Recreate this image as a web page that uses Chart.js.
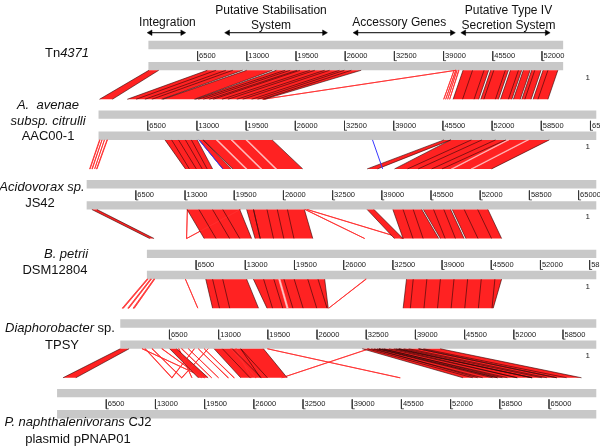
<!DOCTYPE html>
<html>
<head>
<meta charset="utf-8">
<title>Tn4371 family comparison</title>
<script src="https://cdn.jsdelivr.net/npm/chart.js@4.4.1/dist/chart.umd.min.js"></script>
<style>
  html, body { margin: 0; padding: 0; background: #fff; }
  canvas { display: block; }
</style>
</head>
<body>
<canvas id="act" width="600" height="446"></canvas>
<script>
/* ---------- data ---------- */

const genomeNames = [
  [[['Tn', 0], ['4371', 1]]],
  [[['A.  avenae', 1]], [['subsp. citrulli', 1]], [['AAC00-1', 0]]],
  [[['Acidovorax sp.', 1]], [['JS42', 0]]],
  [[['B. petrii', 1]], [['DSM12804', 0]]],
  [[['Diaphorobacter', 1], [' sp.', 0]], [['TPSY', 0]]],
  [[['P. naphthalenivorans', 1], [' CJ2', 0]], [['plasmid pPNAP01', 0]]]
];
const genomeLength = [54800, 75000, 75000, 70000, 75000, 75000];
const rulerTicks = [6500, 13000, 19500, 26000, 32500, 39000, 45500, 52000, 58500, 65000];

// regions of Tn4371
const regionLabels = [['Integration'], ['Putative Stabilisation', 'System'], ['Accessory Genes'], ['Putative Type IV', 'Secretion System']];
const regionStart = [260, 10500, 27470, 41700];
const regionEnd = [4500, 23230, 40130, 52660];

// hits: [upper start, upper end, lower start, lower end, type]
// f = forward hit, w = weak hit, p = low identity, r = inverted, e = hit edge
const tnVsAac = [
  [70, 1370, 130, 1830, 'f'],
  [7770, 12460, 3790, 8350, 'f'],
  [12990, 16380, 8480, 12660, 'f'],
  [16900, 28120, 12790, 21920, 'f'],
  [40650, 40720, 21660, 21730, 'w'],
  [40390, 40460, 45540, 45610, 'w'],
  [40590, 40660, 45810, 45870, 'w'],
  [40780, 40850, 46070, 46130, 'w'],
  [40980, 41050, 46330, 46390, 'w'],
  [41570, 44960, 46850, 50240, 'f'],
  [45220, 47570, 50500, 52850, 'f'],
  [47830, 49330, 53110, 54610, 'f'],
  [49530, 50440, 54810, 55720, 'f'],
  [50630, 51880, 55920, 57160, 'f'],
  [52140, 54100, 57420, 59380, 'f'],
  [8940, 8940, 4960, 4960, 'e'],
  [10240, 10240, 6130, 6130, 'e'],
  [11160, 11160, 7050, 7050, 'e'],
  [18070, 18070, 13180, 13180, 'e'],
  [18730, 18730, 13830, 13830, 'e'],
  [19640, 19640, 14620, 14620, 'e'],
  [20030, 20030, 15140, 15140, 'e'],
  [21340, 21340, 16310, 16310, 'e'],
  [21990, 21990, 17100, 17100, 'e'],
  [23290, 23290, 18270, 18270, 'e'],
  [23950, 23950, 19050, 19050, 'e'],
  [25250, 25250, 20230, 20230, 'e'],
  [25900, 25900, 21010, 21010, 'e'],
  [26820, 26820, 21660, 21660, 'e'],
  [42830, 42830, 48100, 48100, 'e'],
  [44350, 44350, 49620, 49620, 'e'],
  [45640, 45640, 50910, 50910, 'e'],
  [47160, 47160, 52440, 52440, 'e'],
  [48890, 48890, 54160, 54160, 'e'],
  [51050, 51050, 56330, 56330, 'e'],
  [52790, 52790, 58060, 58060, 'e']
];

const aacVsJs42 = [
  [130, 200, 390, 460, 'w'],
  [460, 530, 690, 760, 'w'],
  [780, 850, 990, 1060, 'w'],
  [1110, 1180, 1300, 1370, 'w'],
  [8780, 13050, 13050, 16640, 'f'],
  [13270, 13820, 17990, 19120, 'f'],
  [13820, 22940, 19340, 28550, 'f'],
  [15530, 15730, 21010, 21210, 'p'],
  [17490, 17690, 22970, 23170, 'p'],
  [19450, 19650, 24930, 25130, 'p'],
  [45640, 46540, 37060, 38430, 'f'],
  [46540, 59560, 40680, 53500, 'f'],
  [54030, 54230, 48160, 48360, 'p'],
  [56640, 56840, 50770, 50970, 'p'],
  [13270, 13270, 17990, 17990, 'r'],
  [36200, 36200, 39110, 39110, 'r'],
  [9660, 9660, 13570, 13570, 'e'],
  [10570, 10570, 14490, 14490, 'e'],
  [11480, 11480, 15270, 15270, 'e'],
  [12270, 12270, 15920, 15920, 'e'],
  [49270, 49270, 42400, 42400, 'e'],
  [50670, 50670, 43800, 43800, 'e'],
  [52460, 52460, 45590, 45590, 'e'],
  [53820, 53820, 46950, 46950, 'e']
];

const js42VsBpet = [
  [690, 1360, 370, 950, 'f'],
  [13270, 20230, 7570, 13830, 'f'],
  [13310, 13380, 5170, 5240, 'w'],
  [20300, 20370, 5170, 5240, 'w'],
  [21140, 22050, 14300, 14970, 'f'],
  [22050, 28770, 14970, 21920, 'f'],
  [28840, 28910, 28710, 28780, 'w'],
  [29100, 29170, 33800, 33870, 'w'],
  [37060, 37970, 32710, 33840, 'f'],
  [40460, 44280, 33850, 38560, 'f'],
  [44490, 48090, 38780, 41920, 'f'],
  [48310, 53020, 42150, 46870, 'f'],
  [14840, 14840, 9140, 9140, 'e'],
  [16640, 16640, 10930, 10930, 'e'],
  [17990, 17990, 12270, 12270, 'e'],
  [23830, 23830, 16730, 16730, 'e'],
  [25190, 25190, 18090, 18090, 'e'],
  [26530, 26530, 19430, 19430, 'e'],
  [41810, 41810, 35160, 35160, 'e'],
  [43150, 43150, 36500, 36500, 'e'],
  [45840, 45840, 39410, 39410, 'e'],
  [47200, 47200, 40770, 40770, 'e'],
  [49890, 49890, 43750, 43750, 'e'],
  [51670, 51670, 45540, 45540, 'e']
];

const bpetVsTpsy = [
  [0, 150, 260, 420, 'w'],
  [450, 600, 1000, 1150, 'w'],
  [900, 1040, 1700, 1870, 'w'],
  [5090, 5160, 10180, 10250, 'w'],
  [7780, 13180, 12200, 18270, 'f'],
  [14070, 23490, 19390, 27480, 'f'],
  [17400, 17600, 22000, 22200, 'p'],
  [28910, 28980, 27480, 27550, 'w'],
  [34300, 46870, 37380, 49280, 'f'],
  [8680, 8680, 13115, 13115, 'e'],
  [10020, 10020, 14460, 14460, 'e'],
  [15420, 15420, 20120, 20120, 'e'],
  [16770, 16770, 21470, 21470, 'e'],
  [18110, 18110, 22810, 22810, 'e'],
  [19460, 19460, 24160, 24160, 'e'],
  [21260, 21260, 25960, 25960, 'e'],
  [22610, 22610, 27320, 27320, 'e'],
  [35190, 35190, 38330, 38330, 'e'],
  [36990, 36990, 40130, 40130, 'e'],
  [38780, 38780, 41920, 41920, 'e'],
  [40580, 40580, 43720, 43720, 'e'],
  [42380, 42380, 45520, 45520, 'e'],
  [44180, 44180, 47320, 47320, 'e'],
  [45980, 45980, 49120, 49120, 'e']
];

const tpsyVsCj2 = [
  [0, 1170, 780, 2480, 'f'],
  [6530, 7440, 18660, 19970, 'f'],
  [12400, 15920, 24270, 27800, 'f'],
  [15920, 18920, 26880, 30410, 'f'],
  [2870, 2940, 19440, 19510, 'w'],
  [3260, 3330, 15140, 15210, 'w'],
  [4180, 4250, 16440, 16510, 'w'],
  [7700, 7770, 17750, 17820, 'w'],
  [9000, 9070, 21270, 21340, 'w'],
  [10310, 10380, 22580, 22650, 'w'],
  [11090, 11160, 23360, 23430, 'w'],
  [8090, 8160, 20360, 20430, 'w'],
  [9790, 9860, 15140, 15210, 'w'],
  [11610, 11680, 16440, 16510, 'w'],
  [5480, 5550, 19050, 19120, 'w'],
  [14620, 14690, 26230, 26300, 'w'],
  [15270, 15340, 25580, 25650, 'w'],
  [19440, 19510, 45280, 45350, 'w'],
  [32890, 32960, 29620, 29690, 'w'],
  [31970, 34190, 53640, 58200, 'f'],
  [34190, 36800, 58200, 62770, 'f'],
  [36800, 39410, 62770, 66030, 'f'],
  [39410, 42280, 66030, 69300, 'f'],
  [13500, 13500, 25500, 25500, 'e'],
  [14800, 14800, 27000, 27000, 'e'],
  [32630, 32630, 54940, 54940, 'e'],
  [33150, 33150, 56250, 56250, 'e'],
  [33540, 33540, 55590, 55590, 'e'],
  [33930, 33930, 57550, 57550, 'e'],
  [34580, 34580, 59510, 59510, 'e'],
  [34840, 34840, 58850, 58850, 'e'],
  [35500, 35500, 60810, 60810, 'e'],
  [36150, 36150, 60810, 60810, 'e'],
  [36410, 36410, 62770, 62770, 'e'],
  [37450, 37450, 64080, 64080, 'e'],
  [38110, 38110, 64730, 64730, 'e'],
  [40060, 40060, 67340, 67340, 'e']
];

const comparisons = [tnVsAac, aacVsJs42, js42VsBpet, bpetVsTpsy, tpsyVsCj2];

/* ---------- layout ---------- */

const BP_WIDTH = 78300;  // bp spanned by the 600px window
const trackShift = [19120, 12530, 10960, 18920, 15400, 7050];
const trackTop = [37.7, 108.5, 179.3, 250.1, 320.9, 391.7];
const BAR_H = 8.5, RULER_GAP = 21.5, BAND_H = 29.5, TICK_FOOT = 330;
const ARROW_Y = 29.5;
const regionDx = [1, -5, -5, 3];
const namePos = [
  [[67, 53]],
  [[48, 105], [48, 121], [48, 136]],
  [[42, 187], [40, 203]],
  [[66, 254], [55, 270]],
  [[60, 328], [62, 345]],
  [[78, 422], [78, 439]]
];

const RED = 'rgb(255,34,34)';
const WEAK = 'rgba(255,45,45,0.9)';
const PALE = 'rgba(255,205,205,0.95)';
const DARK = 'rgba(45,0,0,0.85)';
const EDGE = 'rgba(0,0,0,0.7)';
const BLUE = 'rgb(55,55,255)';
const GREY = '#c8c8c8';

/* ---------- datasets ---------- */

const GAP = {x: null, y: null};

function shapeSet(polys, fill, line, width, order) {
  const data = [];
  polys.forEach(p => {
    p.forEach(pt => data.push({x: pt[0], y: pt[1]}));
    data.push({x: p[0][0], y: p[0][1]});
    data.push(GAP);
  });
  return {
    data, showLine: true, spanGaps: false, fill: 'shape',
    backgroundColor: fill, borderColor: line || 'transparent', borderWidth: line ? width : 0,
    pointRadius: 0, pointHoverRadius: 0, order
  };
}

function lineSet(lines, color, width, order) {
  const data = [];
  lines.forEach(l => {
    l.forEach(pt => data.push({x: pt[0], y: pt[1]}));
    data.push(GAP);
  });
  return {
    data, showLine: true, spanGaps: false, fill: false,
    borderColor: color, borderWidth: width, pointRadius: 0, pointHoverRadius: 0, order
  };
}

const datasets = [];

// grey sequence bars and ruler ticks
const bars = [];
const ticks = [];
genomeLength.forEach((len, g) => {
  const x0 = trackShift[g], x1 = x0 + len, y0 = trackTop[g];
  [0, RULER_GAP].forEach(dy => {
    bars.push([[x0, y0 + dy], [x1, y0 + dy], [x1, y0 + dy + BAR_H], [x0, y0 + dy + BAR_H]]);
  });
  rulerTicks.filter(t => t < len).forEach(t => {
    ticks.push([[x0 + t, y0 + 10.6], [x0 + t, y0 + 20.2], [x0 + t + TICK_FOOT, y0 + 20.2]]);
  });
});
datasets.push(shapeSet(bars, GREY, null, 0, 6));
datasets.push(lineSet(ticks, '#333', 0.8, 0));

// hits between neighbouring genomes
comparisons.forEach((hits, i) => {
  const yA = trackTop[i] + RULER_GAP + BAR_H, yB = yA + BAND_H;
  const sA = trackShift[i], sB = trackShift[i + 1];
  const quad = h => [[sA + h[0], yA], [sA + h[1], yA], [sB + h[3], yB], [sB + h[2], yB]];
  const left = h => [[sA + h[0], yA], [sB + h[2], yB]];
  const right = h => [[sA + h[1], yA], [sB + h[3], yB]];
  const of = k => hits.filter(h => h[4] === k);

  datasets.push(shapeSet(of('f').map(quad), RED, null, 0, 5));
  datasets.push(shapeSet(of('w').map(quad), WEAK, WEAK, 0.9, 4));
  datasets.push(shapeSet(of('p').map(quad), PALE, PALE, 0.5, 3));
  datasets.push(lineSet(of('f').flatMap(h => [left(h), right(h)]), DARK, 0.7, 1));
  datasets.push(lineSet(of('e').map(left), EDGE, 0.7, 1));
  datasets.push(lineSet(of('r').map(left), BLUE, 1, 0));
});

// region arrows above Tn4371
const arrowData = [];
regionStart.forEach((s, i) => {
  arrowData.push({x: trackShift[0] + s, y: ARROW_Y});
  arrowData.push({x: trackShift[0] + regionEnd[i], y: ARROW_Y});
  arrowData.push(GAP);
});
datasets.push({
  data: arrowData, showLine: true, spanGaps: false, fill: false,
  borderColor: '#000', borderWidth: 1,
  pointStyle: 'triangle', pointRadius: 3.2, pointHoverRadius: 3.2,
  pointRotation: c => (c.dataIndex % 3 === 0 ? 270 : 90),
  pointBackgroundColor: '#000', pointBorderColor: '#000', pointBorderWidth: 0.5,
  order: 0
});

/* ---------- text ---------- */

const font = (italic, size) => (italic ? 'italic ' : '') + size + 'px "Liberation Sans", Arial, sans-serif';

const labelPlugin = {
  id: 'actLabels',
  afterDatasetsDraw(chart) {
    const {ctx, scales: {x, y}} = chart;
    ctx.save();
    ctx.textBaseline = 'middle';

    // region names
    ctx.fillStyle = '#111';
    ctx.font = font(0, 12);
    ctx.textAlign = 'center';
    regionLabels.forEach((lines, i) => {
      const cx = x.getPixelForValue(trackShift[0] + (regionStart[i] + regionEnd[i]) / 2) + regionDx[i];
      const ys = lines.length === 1 ? [19.5] : [7.5, 22];
      lines.forEach((t, k) => ctx.fillText(t, cx, y.getPixelForValue(ys[k])));
    });

    // ruler numbers and the "1" marks
    ctx.textAlign = 'left';
    ctx.fillStyle = '#222';
    genomeLength.forEach((len, g) => {
      ctx.font = font(0, 7.5);
      rulerTicks.filter(t => t < len).forEach(t => {
        ctx.fillText(String(t), x.getPixelForValue(trackShift[g] + t) + 1.5, y.getPixelForValue(trackTop[g] + 15.6));
      });
      if (g < genomeLength.length - 1) {
        ctx.font = font(0, 8);
        ctx.fillText('1', 585.5, y.getPixelForValue(trackTop[g] + 37.5));
      }
    });

    // genome names
    ctx.fillStyle = '#111';
    genomeNames.forEach((lines, g) => lines.forEach((segs, k) => {
      const [cx, cy] = namePos[g][k];
      let w = 0;
      segs.forEach(([t, it]) => { ctx.font = font(it, 13); w += ctx.measureText(t).width; });
      let xx = cx - w / 2;
      segs.forEach(([t, it]) => {
        ctx.font = font(it, 13);
        ctx.fillText(t, xx, cy);
        xx += ctx.measureText(t).width;
      });
    }));
    ctx.restore();
  }
};

new Chart(document.getElementById('act'), {
  type: 'scatter',
  data: {datasets},
  options: {
    responsive: false,
    devicePixelRatio: 1,
    animation: false,
    events: [],
    layout: {padding: 0},
    plugins: {legend: {display: false}, tooltip: {enabled: false}},
    scales: {
      x: {type: 'linear', min: 0, max: BP_WIDTH, display: false},
      y: {type: 'linear', min: 0, max: 446, reverse: true, display: false}
    }
  },
  plugins: [labelPlugin]
});
</script>
</body>
</html>
